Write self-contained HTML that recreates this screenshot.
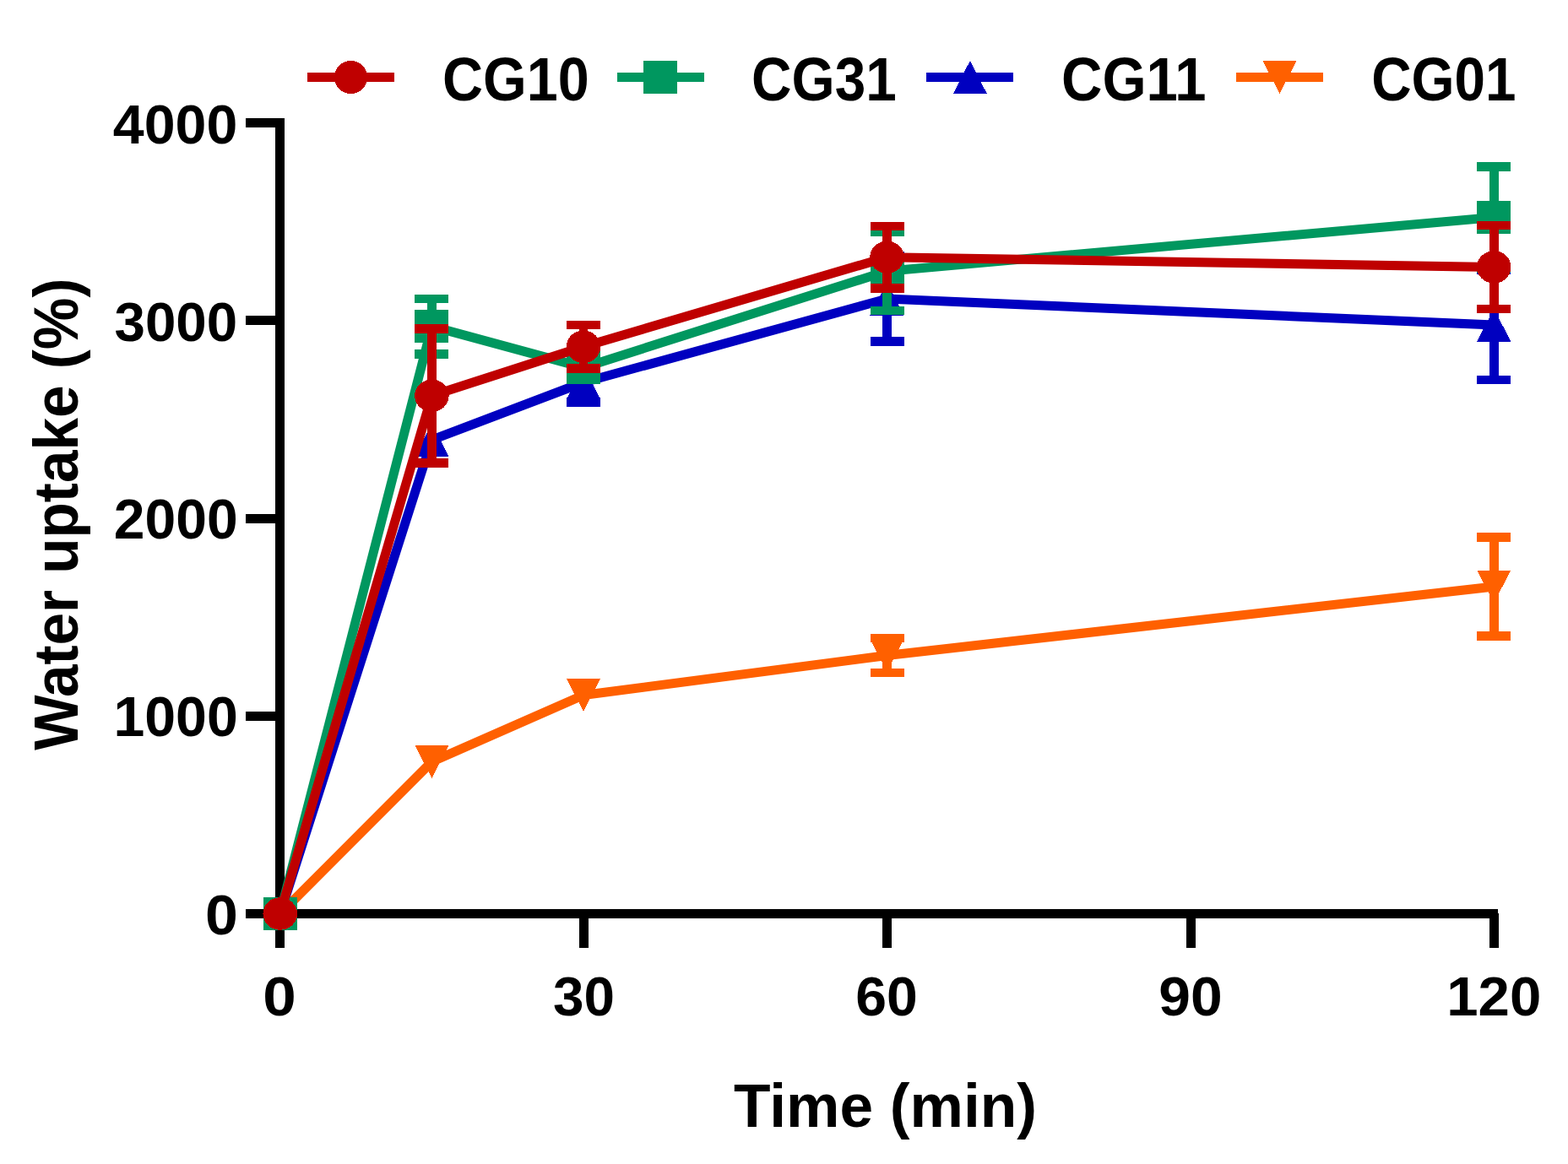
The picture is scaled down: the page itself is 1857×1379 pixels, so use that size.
<!DOCTYPE html>
<html><head><meta charset="utf-8"><title>Water uptake</title>
<style>html,body{margin:0;padding:0;background:#fff;width:1857px;height:1379px;overflow:hidden}svg{display:block}</style>
</head><body>
<svg width="1857" height="1379" viewBox="0 0 1857 1379" shape-rendering="crispEdges"><rect width="1857" height="1379" fill="#fff"/><g fill="#000"><rect x="326" y="140" width="11" height="948"/><rect x="291" y="1077" width="1483" height="11"/><rect x="291" y="842.75" width="35" height="11"/><rect x="291" y="608.50" width="35" height="11"/><rect x="291" y="374.25" width="35" height="11"/><rect x="291" y="140.00" width="35" height="11"/><rect x="326.00" y="1082" width="11" height="41"/><rect x="685.50" y="1082" width="11" height="41"/><rect x="1045.00" y="1082" width="11" height="41"/><rect x="1404.50" y="1082" width="11" height="41"/><rect x="1764.00" y="1082" width="11" height="41"/></g><g><polyline points="331.75,1082.50 511.40,902.50 691.00,823.50 1050.50,776.50 1769.25,695.00" fill="none" stroke="#FF6000" stroke-width="11" stroke-linejoin="round" stroke-linecap="round" shape-rendering="geometricPrecision"/><rect x="1045.25" y="756.00" width="10.5" height="41.00" fill="#FF6000"/><rect x="1030.50" y="750.75" width="40" height="10.5" fill="#FF6000"/><rect x="1030.50" y="791.75" width="40" height="10.5" fill="#FF6000"/><rect x="1764.00" y="636.50" width="10.5" height="117.00" fill="#FF6000"/><rect x="1749.25" y="631.25" width="40" height="10.5" fill="#FF6000"/><rect x="1749.25" y="748.25" width="40" height="10.5" fill="#FF6000"/><polygon points="311.75,1063.00 351.75,1063.00 331.75,1102.00" fill="#FF6000"/><polygon points="491.40,883.00 531.40,883.00 511.40,922.00" fill="#FF6000"/><polygon points="671.00,804.00 711.00,804.00 691.00,843.00" fill="#FF6000"/><polygon points="1030.50,757.00 1070.50,757.00 1050.50,796.00" fill="#FF6000"/><polygon points="1749.25,675.50 1789.25,675.50 1769.25,714.50" fill="#FF6000"/></g><g><polyline points="331.75,1082.50 511.40,521.20 691.00,453.00 1050.50,354.00 1769.25,385.00" fill="none" stroke="#0000C0" stroke-width="11" stroke-linejoin="round" stroke-linecap="round" shape-rendering="geometricPrecision"/><rect x="685.75" y="429.50" width="10.5" height="47.00" fill="#0000C0"/><rect x="671.00" y="424.25" width="40" height="10.5" fill="#0000C0"/><rect x="671.00" y="471.25" width="40" height="10.5" fill="#0000C0"/><rect x="1045.25" y="303.50" width="10.5" height="101.00" fill="#0000C0"/><rect x="1030.50" y="298.25" width="40" height="10.5" fill="#0000C0"/><rect x="1030.50" y="399.25" width="40" height="10.5" fill="#0000C0"/><rect x="1764.00" y="320.00" width="10.5" height="130.00" fill="#0000C0"/><rect x="1749.25" y="314.75" width="40" height="10.5" fill="#0000C0"/><rect x="1749.25" y="444.75" width="40" height="10.5" fill="#0000C0"/><polygon points="331.75,1063.00 351.75,1102.00 311.75,1102.00" fill="#0000C0"/><polygon points="511.40,501.70 531.40,540.70 491.40,540.70" fill="#0000C0"/><polygon points="691.00,433.50 711.00,472.50 671.00,472.50" fill="#0000C0"/><polygon points="1050.50,334.50 1070.50,373.50 1030.50,373.50" fill="#0000C0"/><polygon points="1769.25,365.50 1789.25,404.50 1749.25,404.50" fill="#0000C0"/></g><g><polyline points="331.75,1082.50 511.40,386.60 691.00,435.40 1050.50,321.20 1769.25,257.50" fill="none" stroke="#00975F" stroke-width="11" stroke-linejoin="round" stroke-linecap="round" shape-rendering="geometricPrecision"/><rect x="506.15" y="353.85" width="10.5" height="65.50" fill="#00975F"/><rect x="491.40" y="348.60" width="40" height="10.5" fill="#00975F"/><rect x="491.40" y="414.10" width="40" height="10.5" fill="#00975F"/><rect x="1045.25" y="274.50" width="10.5" height="93.40" fill="#00975F"/><rect x="1030.50" y="269.25" width="40" height="10.5" fill="#00975F"/><rect x="1030.50" y="362.65" width="40" height="10.5" fill="#00975F"/><rect x="1764.00" y="197.50" width="10.5" height="120.00" fill="#00975F"/><rect x="1749.25" y="192.25" width="40" height="10.5" fill="#00975F"/><rect x="1749.25" y="312.25" width="40" height="10.5" fill="#00975F"/><rect x="311.75" y="1063.00" width="40" height="39" fill="#00975F"/><rect x="491.40" y="367.10" width="40" height="39" fill="#00975F"/><rect x="671.00" y="415.90" width="40" height="39" fill="#00975F"/><rect x="1030.50" y="301.70" width="40" height="39" fill="#00975F"/><rect x="1749.25" y="238.00" width="40" height="39" fill="#00975F"/></g><g><polyline points="331.75,1082.50 511.40,468.75 691.00,410.75 1050.50,304.75 1769.25,316.40" fill="none" stroke="#BF0000" stroke-width="11" stroke-linejoin="round" stroke-linecap="round" shape-rendering="geometricPrecision"/><rect x="506.15" y="389.25" width="10.5" height="159.00" fill="#BF0000"/><rect x="491.40" y="384.00" width="40" height="10.5" fill="#BF0000"/><rect x="491.40" y="543.00" width="40" height="10.5" fill="#BF0000"/><rect x="685.75" y="385.00" width="10.5" height="51.50" fill="#BF0000"/><rect x="671.00" y="379.75" width="40" height="10.5" fill="#BF0000"/><rect x="671.00" y="431.25" width="40" height="10.5" fill="#BF0000"/><rect x="1045.25" y="268.00" width="10.5" height="73.50" fill="#BF0000"/><rect x="1030.50" y="262.75" width="40" height="10.5" fill="#BF0000"/><rect x="1030.50" y="336.25" width="40" height="10.5" fill="#BF0000"/><rect x="1764.00" y="267.05" width="10.5" height="98.70" fill="#BF0000"/><rect x="1749.25" y="261.80" width="40" height="10.5" fill="#BF0000"/><rect x="1749.25" y="360.50" width="40" height="10.5" fill="#BF0000"/><ellipse cx="331.75" cy="1082.5" rx="20.25" ry="19.25" fill="#BF0000"/><ellipse cx="511.4" cy="468.75" rx="20.25" ry="19.25" fill="#BF0000"/><ellipse cx="691" cy="410.75" rx="20.25" ry="19.25" fill="#BF0000"/><ellipse cx="1050.5" cy="304.75" rx="20.25" ry="19.25" fill="#BF0000"/><ellipse cx="1769.25" cy="316.4" rx="20.25" ry="19.25" fill="#BF0000"/></g><g><rect x="364.00" y="86" width="103" height="11" fill="#BF0000"/><ellipse cx="415.5" cy="91.5" rx="19.65" ry="19.5" fill="#BF0000"/><rect x="730.67" y="86" width="103" height="11" fill="#00975F"/><rect x="762.17" y="72.00" width="40" height="39" fill="#00975F"/><rect x="1097.34" y="86" width="103" height="11" fill="#0000C0"/><polygon points="1148.84,72.00 1168.84,111.00 1128.84,111.00" fill="#0000C0"/><rect x="1464.01" y="86" width="103" height="11" fill="#FF6000"/><polygon points="1495.51,72.00 1535.51,72.00 1515.51,111.00" fill="#FF6000"/></g><g font-family='"Liberation Sans", Arial, sans-serif' font-weight="bold" fill="#000" shape-rendering="auto"><text id="y4000" x="133.81" y="169.85" font-size="65.11" text-anchor="start" textLength="147.45" lengthAdjust="spacingAndGlyphs">4000</text><text id="y3000" x="135.49" y="403.98" font-size="65.30" text-anchor="start" textLength="145.73" lengthAdjust="spacingAndGlyphs">3000</text><text id="y2000" x="134.69" y="638.14" font-size="66.10" text-anchor="start" textLength="146.96" lengthAdjust="spacingAndGlyphs">2000</text><text id="y1000" x="134.43" y="872.24" font-size="66.38" text-anchor="start" textLength="147.33" lengthAdjust="spacingAndGlyphs">1000</text><text id="y0" x="243.00" y="1107.24" font-size="66.38" text-anchor="start" textLength="38.87" lengthAdjust="spacingAndGlyphs">0</text><text id="x0" x="311.16" y="1202.65" font-size="65.11" text-anchor="start" textLength="39.46" lengthAdjust="spacingAndGlyphs">0</text><text id="x30" x="654.99" y="1202.58" font-size="65.02" text-anchor="start" textLength="73.02" lengthAdjust="spacingAndGlyphs">30</text><text id="x60" x="1013.15" y="1202.65" font-size="65.11" text-anchor="start" textLength="73.58" lengthAdjust="spacingAndGlyphs">60</text><text id="x90" x="1372.23" y="1202.65" font-size="65.11" text-anchor="start" textLength="75.37" lengthAdjust="spacingAndGlyphs">90</text><text id="x120" x="1713.27" y="1202.65" font-size="65.11" text-anchor="start" textLength="112.01" lengthAdjust="spacingAndGlyphs">120</text><text id="lg1" x="524.07" y="119.28" font-size="72.32" text-anchor="start" textLength="173.67" lengthAdjust="spacingAndGlyphs">CG10</text><text id="lg2" x="890.11" y="119.21" font-size="72.21" text-anchor="start" textLength="171.65" lengthAdjust="spacingAndGlyphs">CG31</text><text id="lg3" x="1257.05" y="119.28" font-size="72.32" text-anchor="start" textLength="171.44" lengthAdjust="spacingAndGlyphs">CG11</text><text id="lg4" x="1624.21" y="119.28" font-size="72.32" text-anchor="start" textLength="171.35" lengthAdjust="spacingAndGlyphs">CG01</text><text id="xt" x="869.02" y="1335.00" font-size="72.97" text-anchor="start" textLength="358.92" lengthAdjust="spacingAndGlyphs">Time (min)</text><text id="yt" x="91.80" y="888.87" font-size="73.84" text-anchor="start" textLength="559.35" lengthAdjust="spacingAndGlyphs" transform="rotate(-90 91.80 888.87)">Water uptake (%)</text></g></svg>
</body></html>
